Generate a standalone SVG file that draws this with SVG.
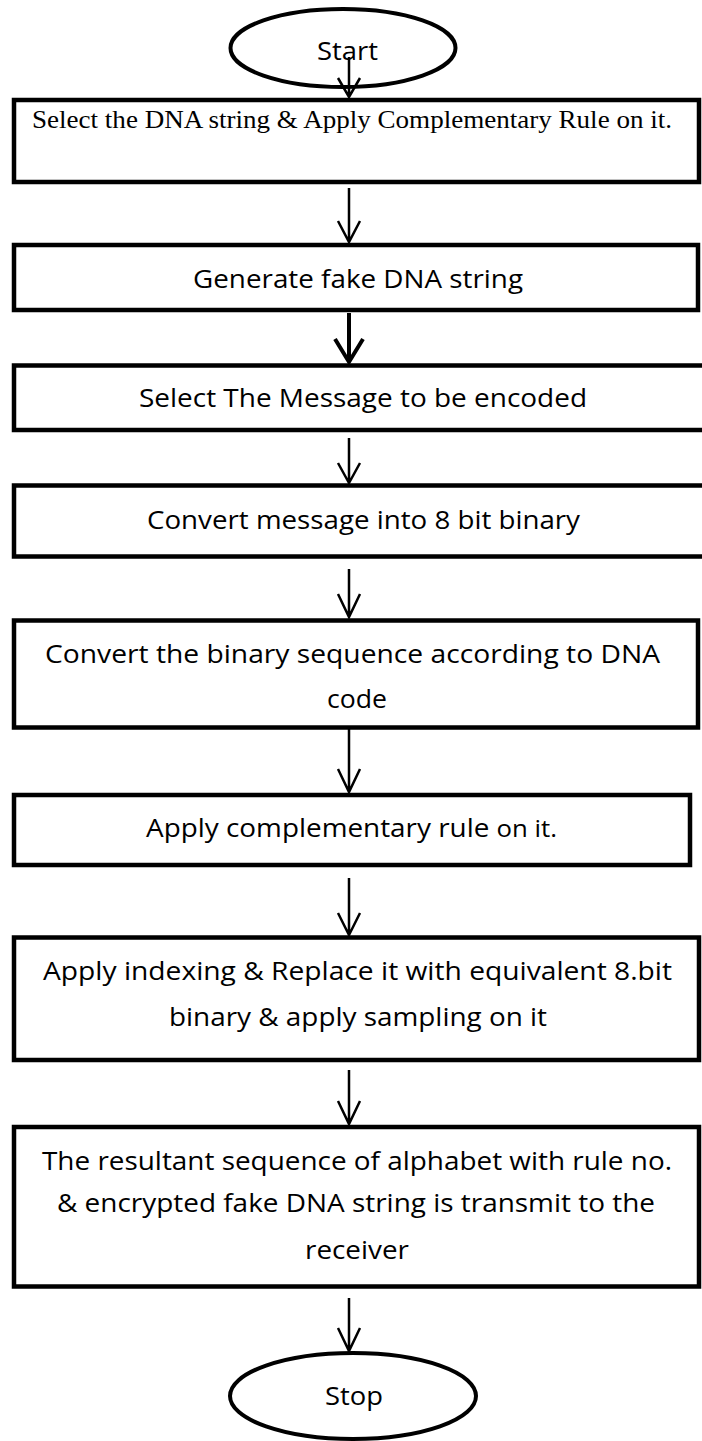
<svg xmlns="http://www.w3.org/2000/svg" width="702" height="1441" viewBox="0 0 702 1441">
  <style>
    .box { fill: #ffffff; stroke: #000000; stroke-width: 4.5; }
    .term { fill: #ffffff; stroke: #000000; stroke-width: 4; }
    .lbl { font-family: "Open Sans", "Liberation Sans", sans-serif; font-size: 26px; fill: #000000; }
    .serif { font-family: "Liberation Serif", "Times New Roman", serif; font-size: 25.5px; fill: #000000; }
    .flow { fill: none; stroke: #000000; stroke-width: 2.5; }
    .flow-bold { fill: none; stroke: #000000; stroke-width: 4; }
  </style>

  <rect x="0" y="0" width="702" height="1441" fill="#ffffff"/>

  <!-- terminals and process steps -->
  <g id="start">
    <ellipse class="term" cx="343" cy="48" rx="112.5" ry="39"/>
    <text class="lbl" x="347.5" y="60" text-anchor="middle" textLength="61" lengthAdjust="spacingAndGlyphs">Start</text>
  </g>

  <g id="step-select-dna">
    <rect class="box" x="14" y="100" width="685" height="82"/>
    <text class="serif" x="352" y="128" text-anchor="middle" textLength="640" lengthAdjust="spacingAndGlyphs">Select the DNA string &amp; Apply Complementary Rule on it.</text>
  </g>

  <g id="step-fake-dna">
    <rect class="box" x="14" y="245" width="684" height="65"/>
    <text class="lbl" x="358" y="288" text-anchor="middle" textLength="330" lengthAdjust="spacingAndGlyphs">Generate fake DNA string</text>
  </g>

  <g id="step-select-message">
    <rect class="box" x="14" y="365.5" width="710" height="64.5"/>
    <text class="lbl" x="363" y="407" text-anchor="middle" textLength="448" lengthAdjust="spacingAndGlyphs">Select The Message to be encoded</text>
  </g>

  <g id="step-to-binary">
    <rect class="box" x="14" y="485.5" width="710" height="71"/>
    <text class="lbl" x="363.5" y="529" text-anchor="middle" textLength="433" lengthAdjust="spacingAndGlyphs">Convert message into 8 bit binary</text>
  </g>

  <g id="step-dna-code">
    <rect class="box" x="14" y="620.5" width="684" height="107"/>
    <text class="lbl" x="352.5" y="663" text-anchor="middle" textLength="615" lengthAdjust="spacingAndGlyphs">Convert the binary sequence according to DNA</text>
    <text class="lbl" x="357" y="708" text-anchor="middle" textLength="60" lengthAdjust="spacingAndGlyphs">code</text>
  </g>

  <g id="step-complement">
    <rect class="box" x="14" y="795" width="676" height="70"/>
    <text class="lbl" x="351.5" y="837" text-anchor="middle" textLength="411" lengthAdjust="spacingAndGlyphs">Apply complementary rule <tspan font-size="24px">on it.</tspan></text>
  </g>

  <g id="step-indexing">
    <rect class="box" x="14" y="937.5" width="685" height="122.5"/>
    <text class="lbl" x="357.5" y="980" text-anchor="middle" textLength="629" lengthAdjust="spacingAndGlyphs">Apply indexing &amp; Replace it with equivalent 8.bit</text>
    <text class="lbl" x="358" y="1026" text-anchor="middle" textLength="378" lengthAdjust="spacingAndGlyphs">binary &amp; apply sampling on it</text>
  </g>

  <g id="step-transmit">
    <rect class="box" x="14" y="1127" width="685" height="159.5"/>
    <text class="lbl" x="357" y="1170" text-anchor="middle" textLength="630" lengthAdjust="spacingAndGlyphs">The resultant sequence of alphabet with rule no.</text>
    <text class="lbl" x="356" y="1212" text-anchor="middle" textLength="598" lengthAdjust="spacingAndGlyphs">&amp; encrypted fake DNA string is transmit to the</text>
    <text class="lbl" x="357" y="1259" text-anchor="middle" textLength="104" lengthAdjust="spacingAndGlyphs">receiver</text>
  </g>

  <g id="stop">
    <ellipse class="term" cx="353" cy="1396" rx="123" ry="43"/>
    <text class="lbl" x="354" y="1405" text-anchor="middle" textLength="58" lengthAdjust="spacingAndGlyphs">Stop</text>
  </g>

  <!-- connectors: straight shafts with open V heads -->
  <g id="connectors">
    <path class="flow" d="M349 57 V97 M338 78 L349 97 L360 78"/>
    <path class="flow" d="M349 188 V242 M338 221 L349 242 L360 221"/>
    <path class="flow-bold" d="M349 313 V362 M335 339 L349 362 L363 339"/>
    <path class="flow" d="M349 438 V483 M338 463 L349 483 L360 463"/>
    <path class="flow" d="M349 569 V617 M338 594 L349 617 L360 594"/>
    <path class="flow" d="M349 729 V792 M338 769 L349 792 L360 769"/>
    <path class="flow" d="M349 878 V935 M338 913 L349 935 L360 913"/>
    <path class="flow" d="M349 1070 V1124 M338 1101 L349 1124 L360 1101"/>
    <path class="flow" d="M349 1298 V1351 M338 1328 L349 1351 L360 1328"/>
  </g>
</svg>
